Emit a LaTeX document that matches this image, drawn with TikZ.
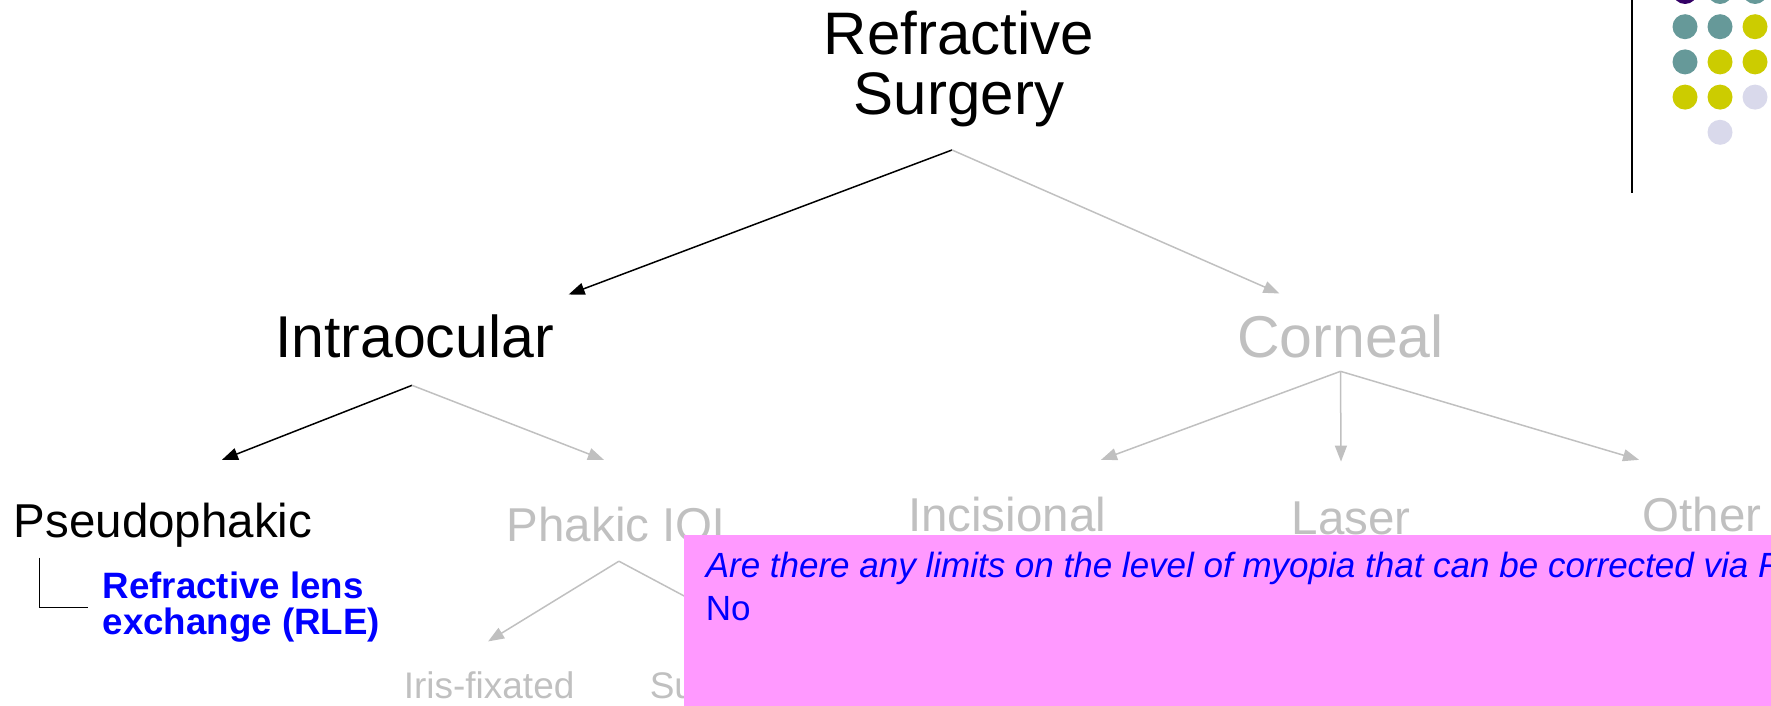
\documentclass[tikz,border=0pt]{standalone}
\usepackage{fontspec}
\setmainfont{Liberation Sans}
\usetikzlibrary{arrows.meta}

\definecolor{faded}{RGB}{192,192,192}
\definecolor{notepink}{RGB}{255,153,255}
\definecolor{dotpurple}{RGB}{51,0,102}
\definecolor{dotteal}{RGB}{102,153,153}
\definecolor{dotyellow}{RGB}{204,204,0}
\definecolor{dotlilac}{RGB}{217,217,235}

\begin{document}
\begin{tikzpicture}[x=1pt,y=-1pt,>={Triangle[length=16pt,width=12pt]},line width=1.5pt,inner sep=0pt,
    top node/.style={align=center,font=\fontsize{60}{60}\selectfont},
    mid node/.style={anchor=base,font=\fontsize{59}{70}\selectfont},
    sub node/.style={anchor=base,font=\fontsize{47.5}{55}\selectfont},
    leaf node/.style={anchor=base west,text=faded,font=\fontsize{37}{42}\selectfont}]
    \useasboundingbox (0,0) rectangle (1771,706);
    \clip (0,0) rectangle (1771,706);

    % tree of procedures
    \node[top node,anchor=south] (root) at (959,128) {Refractive\\Surgery};
    \node[mid node] (intra) at (414.5,357) {Intraocular};
    \node[mid node,text=faded] (corneal) at (1340.5,357) {Corneal};
    \node[sub node,anchor=base west] (pseudo) at (13,537) {Pseudophakic};
    \node[sub node,anchor=base west,text=faded] (phakic) at (506,541) {Phakic IOL};
    \node[sub node,text=faded] (incis) at (1007,531) {Incisional};
    \node[sub node,text=faded] (laser) at (1351,534) {Laser};
    \node[sub node,text=faded] (other) at (1702,531) {Other};
    \node[leaf node] (iris) at (403,698) {Iris-fixated};
    \node[leaf node] (sulcus) at (649,698) {Su};
    \node[anchor=west,inner xsep=14pt,align=left,text=blue,font=\bfseries\fontsize{36.7}{36}\selectfont] (rle) at (88,607) {Refractive lens\\exchange (RLE)};

    \coordinate (root fork) at ([xshift=-7pt,yshift=-22pt]root.south);
    \coordinate (intra fork) at ([xshift=-2.5pt,yshift=-27pt]intra.south);
    \coordinate (corneal fork) at ([yshift=-13pt]corneal.south);
    \coordinate (phakic fork) at ([xshift=-4pt,yshift=-19pt]phakic.south);

    \path[->]
        (root fork) edge ([xshift=14pt,yshift=19pt]intra.north east)
        (root fork) edge[draw=faded] ([xshift=43pt,yshift=20pt]corneal.north west)
        (intra fork) edge ([xshift=59pt,yshift=42pt]pseudo.north)
        (intra fork) edge[draw=faded] ([xshift=-19pt,yshift=46pt]phakic.north)
        (corneal fork) edge[draw=faded] ([xshift=94pt,yshift=36pt]incis.north)
        (corneal fork) edge[draw=faded] ([xshift=-10pt,yshift=39pt]laser.north)
        (corneal fork) edge[draw=faded] ([xshift=-63pt,yshift=36pt]other.north)
        (phakic fork) edge[draw=faded] ([xshift=-1pt,yshift=29pt]iris.north)
        (phakic fork) edge[draw=faded] ([xshift=97pt,yshift=30pt]sulcus.north)
        ;
    \draw[line width=1pt] ([xshift=26pt,yshift=-10pt]pseudo.south west) |- (rle.west);

    % comment box on top
    \fill[notepink] (684,535) rectangle (1771,706);
    \node[anchor=north west,align=left,text=blue,font=\fontsize{35}{43}\selectfont] (note) at (705,551.5)
        {{\itshape Are there any limits on the level of myopia that can be corrected via R}\\No};

    % corner ornament
    \draw[line width=2pt] (1632,0) -- (1632,193);
    \foreach \dcol/\drow/\dshade in {0/0/dotpurple,1/0/dotteal,2/0/dotteal,
        0/1/dotteal,1/1/dotteal,2/1/dotyellow,
        0/2/dotteal,1/2/dotyellow,2/2/dotyellow,
        0/3/dotyellow,1/3/dotyellow,2/3/dotlilac,
        1/4/dotlilac}
        \fill[\dshade] (1685+35*\dcol,-8.5+35.2*\drow) circle (12.5);
\end{tikzpicture}
\end{document}
